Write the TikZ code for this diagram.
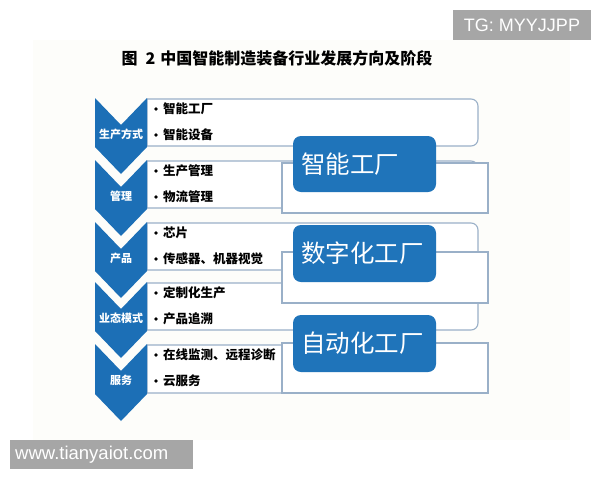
\documentclass[tikz,border=0pt]{standalone}
\usepackage{fontspec}
\setmainfont{Liberation Sans}
\newfontfamily\cjk{Noto Sans CJK SC}
\definecolor{cblue}{HTML}{1C6FB6}
\definecolor{bblue}{HTML}{1F74BA}
\definecolor{outl}{HTML}{9AB0C8}
\definecolor{wm}{HTML}{A6A6A6}
\definecolor{bgc}{HTML}{FDFDFA}
\begin{document}
\begin{tikzpicture}[x=1pt,y=-1pt,
  rowbox/.style={draw=outl, line width=1.1pt, fill=white},
  chev/.style={fill=cblue},
  stagebox/.style={draw=outl, line width=1.1pt, fill=white},
  bluebox/.style={fill=bblue, rounded corners=8pt},
  itemtext/.style={font=\cjk\bfseries\fontsize{12.5}{14}\selectfont, anchor=west, inner sep=0pt},
  bulletdot/.style={circle, fill=black, inner sep=0pt, minimum size=3.6pt},
  chevtext/.style={font=\cjk\bfseries\fontsize{11}{13}\selectfont, text=white, inner sep=0pt},
  stagetext/.style={font=\cjk\fontsize{24.5}{28}\selectfont, text=white, anchor=west, inner sep=0pt},
  titletext/.style={font=\cjk\bfseries\fontsize{16}{18}\selectfont, inner sep=0pt},
  wmtext/.style={text=white, inner sep=0pt}]
\useasboundingbox (0,0) rectangle (600,480);
\fill[white] (0,0) rectangle (600,480);
\fill[bgc] (33,40) rectangle (570,440);
% title
\node[titletext] (title) at (277,58) {图\hspace{0.5em}2\hspace{0.3em}中国智能制造装备行业发展方向及阶段};
% rows
\foreach \i/\t/\b/\lab/\ia/\ib in {
  1/99/146/生产方式/智能工厂/智能设备,
  2/161/208/管理/生产管理/物流管理,
  3/223/270/产品/芯片/传感器、机器视觉,
  4/283/330/业态模式/定制化生产/产品追溯,
  5/345/393/服务/在线监测、远程诊断/云服务}{
  \draw[rowbox] (147,\t) -- (400,\t) [rounded corners=7pt] -- (478,\t) -- (478,\b) -- (400,\b) [sharp corners] -- (147,\b) -- cycle;
  \fill[chev] (95,\t-1) -- (121,\t+26) -- (147,\t-1) -- (147,\b+1) -- (121,\b+28) -- (95,\b+1) -- cycle;
  \node[chevtext] (chev\i) at (121,\t+35.5) {\lab};
  \node[bulletdot] (bua\i) at (156,\t+10) {};
  \node[itemtext] (ita\i) at (163,\t+9.5) {\ia};
  \node[bulletdot] (bub\i) at (156,\t+36) {};
  \node[itemtext] (itb\i) at (163,\t+35.5) {\ib};
}
% stages
\foreach \j/\rt/\rb/\bt/\bb/\lab in {
  1/163/213/136/192/智能工厂,
  2/252/303/225/282/数字化工厂,
  3/343/393/315/372/自动化工厂}{
  \draw[stagebox] (282,\rt) rectangle (488,\rb);
  \fill[bluebox] (293,\bt) rectangle (436,\bb);
  \node[stagetext] (stage\j) at (301,{(\bt+\bb)/2}) {\lab};
}
% watermarks
\fill[wm] (453,10) rectangle (591,40);
\node[wmtext, font=\fontsize{18}{20}\selectfont] (tg) at (522,25.5) {TG: MYYJJPP};
\fill[wm] (10,440) rectangle (193,469);
\node[wmtext, anchor=west, font=\fontsize{18.5}{20}\selectfont] (www) at (15,454.5) {www.tianyaiot.com};
\end{tikzpicture}
\end{document}
